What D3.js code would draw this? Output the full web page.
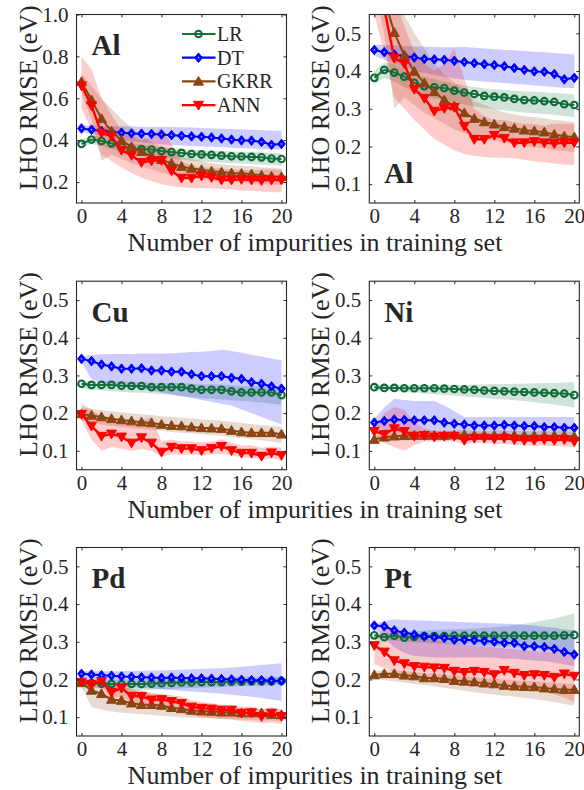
<!DOCTYPE html>
<html><head><meta charset="utf-8">
<script src="https://cdn.jsdelivr.net/npm/d3@7"></script>
<style>
html,body{margin:0;padding:0;background:#fff;}
svg text{font-family:"Liberation Serif","Times New Roman",serif;fill:#262626;}
</style></head>
<body><svg id="chart" width="584" height="790"></svg>
<script>
// ---------- data ----------
const impurities = [0,1,2,3,4,5,6,7,8,9,10,11,12,13,14,15,16,17,18,19,20];
const xTicks = [0,4,8,12,16,20];
const yTicksWide = [0.2,0.4,0.6,0.8,1.0];
const yTicksNarrow = [0.1,0.2,0.3,0.4,0.5];
const methods = ["LR","DT","GKRR","ANN"];
const colors = ["#12753c","#0000ff","#8b4513","#ff0000"];
const markerColors = ["#0e6a38","#0000ff","#8b4513","#ff0000"];
const xTitle = "Number of impurities in training set";
const yTitle = "LHO RMSE (eV)";

// Al
const alLR   = [0.382,0.403,0.396,0.385,0.369,0.360,0.357,0.355,0.348,0.343,0.339,0.334,0.332,0.330,0.326,0.323,0.322,0.320,0.318,0.312,0.310];
const alLRlo = [0.365,0.382,0.372,0.358,0.342,0.332,0.327,0.323,0.316,0.311,0.306,0.302,0.299,0.296,0.293,0.290,0.288,0.286,0.284,0.281,0.278];
const alLRhi = [0.400,0.422,0.418,0.408,0.395,0.385,0.378,0.372,0.366,0.362,0.358,0.354,0.352,0.350,0.348,0.346,0.345,0.344,0.342,0.340,0.338];
const alDT   = [0.456,0.450,0.444,0.440,0.436,0.432,0.431,0.430,0.427,0.424,0.421,0.418,0.416,0.413,0.408,0.403,0.399,0.398,0.392,0.378,0.382];
const alDTlo = [0.440,0.430,0.420,0.410,0.400,0.395,0.390,0.385,0.380,0.377,0.374,0.372,0.370,0.368,0.366,0.364,0.362,0.360,0.358,0.356,0.355];
const alDThi = [0.470,0.470,0.468,0.466,0.465,0.465,0.464,0.463,0.463,0.464,0.462,0.460,0.458,0.456,0.455,0.453,0.451,0.450,0.448,0.446,0.444];
const alGK   = [0.679,0.592,0.502,0.442,0.399,0.368,0.345,0.323,0.307,0.289,0.274,0.265,0.259,0.252,0.248,0.243,0.241,0.238,0.232,0.227,0.225];
const alGKlo = [0.620,0.500,0.300,0.330,0.310,0.290,0.275,0.260,0.245,0.235,0.225,0.220,0.215,0.210,0.205,0.200,0.198,0.195,0.190,0.188,0.185];
const alGKhi = [0.720,0.660,0.600,0.550,0.500,0.460,0.420,0.390,0.370,0.350,0.320,0.310,0.300,0.290,0.285,0.280,0.278,0.275,0.270,0.268,0.265];
const alANN   = [0.660,0.565,0.434,0.420,0.352,0.328,0.294,0.301,0.304,0.254,0.219,0.219,0.230,0.222,0.210,0.210,0.213,0.210,0.208,0.210,0.210];
const alANNlo = [0.550,0.450,0.330,0.300,0.270,0.245,0.220,0.205,0.190,0.180,0.175,0.172,0.170,0.170,0.168,0.165,0.160,0.158,0.155,0.152,0.150];
const alANNhi = [0.800,0.740,0.600,0.520,0.450,0.420,0.400,0.420,0.460,0.380,0.300,0.280,0.270,0.270,0.265,0.260,0.260,0.255,0.260,0.260,0.260];

// Cu
const cuLR   = [0.278,0.275,0.275,0.275,0.273,0.272,0.272,0.269,0.269,0.269,0.269,0.265,0.262,0.262,0.262,0.258,0.255,0.255,0.255,0.255,0.248];
const cuLRlo = [0.265,0.262,0.260,0.258,0.256,0.255,0.254,0.252,0.250,0.248,0.245,0.243,0.240,0.238,0.236,0.234,0.232,0.230,0.228,0.225,0.222];
const cuLRhi = [0.285,0.285,0.285,0.285,0.283,0.283,0.282,0.280,0.280,0.280,0.280,0.278,0.276,0.276,0.276,0.274,0.272,0.272,0.272,0.272,0.270];
const cuDT   = [0.344,0.338,0.329,0.324,0.318,0.318,0.319,0.313,0.313,0.310,0.310,0.303,0.298,0.298,0.298,0.294,0.291,0.282,0.278,0.271,0.265];
const cuDTlo = [0.335,0.290,0.280,0.275,0.270,0.268,0.265,0.260,0.255,0.250,0.245,0.240,0.235,0.230,0.225,0.220,0.210,0.200,0.190,0.180,0.170];
const cuDThi = [0.350,0.355,0.356,0.357,0.357,0.357,0.358,0.358,0.358,0.359,0.360,0.362,0.363,0.365,0.368,0.365,0.360,0.355,0.350,0.345,0.340];
const cuGK   = [0.198,0.194,0.190,0.185,0.182,0.179,0.176,0.174,0.170,0.167,0.166,0.163,0.161,0.160,0.159,0.154,0.150,0.148,0.148,0.148,0.144];
const cuGKlo = [0.180,0.175,0.170,0.166,0.163,0.160,0.158,0.156,0.153,0.150,0.148,0.146,0.144,0.142,0.140,0.137,0.134,0.131,0.128,0.125,0.120];
const cuGKhi = [0.215,0.212,0.208,0.205,0.202,0.200,0.197,0.195,0.192,0.190,0.188,0.186,0.184,0.182,0.180,0.177,0.174,0.171,0.168,0.166,0.164];
const cuANN   = [0.197,0.166,0.139,0.145,0.137,0.121,0.135,0.121,0.097,0.110,0.106,0.106,0.101,0.107,0.112,0.101,0.094,0.094,0.086,0.095,0.088];
const cuANNlo = [0.180,0.130,0.100,0.110,0.105,0.100,0.105,0.100,0.085,0.090,0.090,0.090,0.088,0.090,0.092,0.088,0.083,0.082,0.078,0.080,0.076];
const cuANNhi = [0.225,0.210,0.190,0.180,0.175,0.170,0.180,0.190,0.125,0.130,0.125,0.125,0.122,0.125,0.130,0.122,0.115,0.115,0.108,0.112,0.108];

// Ni
const niLR   = [0.269,0.267,0.267,0.266,0.266,0.266,0.266,0.265,0.264,0.263,0.262,0.260,0.259,0.258,0.257,0.256,0.255,0.254,0.253,0.252,0.248];
const niLRlo = [0.262,0.260,0.258,0.256,0.254,0.252,0.250,0.248,0.246,0.244,0.242,0.240,0.238,0.236,0.234,0.232,0.229,0.226,0.223,0.219,0.215];
const niLRhi = [0.275,0.275,0.275,0.275,0.275,0.275,0.275,0.275,0.275,0.275,0.276,0.276,0.277,0.277,0.278,0.278,0.279,0.280,0.280,0.281,0.282];
const niDT   = [0.175,0.179,0.183,0.182,0.181,0.181,0.181,0.175,0.172,0.170,0.167,0.167,0.167,0.169,0.167,0.166,0.166,0.163,0.163,0.161,0.161];
const niDTlo = [0.165,0.155,0.150,0.148,0.148,0.148,0.148,0.148,0.148,0.147,0.146,0.146,0.146,0.146,0.146,0.145,0.145,0.145,0.145,0.144,0.144];
const niDThi = [0.185,0.215,0.238,0.235,0.232,0.232,0.232,0.220,0.205,0.190,0.190,0.190,0.190,0.190,0.190,0.190,0.190,0.190,0.190,0.190,0.190];
const niGK   = [0.130,0.136,0.139,0.140,0.141,0.141,0.141,0.141,0.142,0.143,0.141,0.141,0.141,0.141,0.141,0.140,0.140,0.140,0.140,0.140,0.138];
const niGKlo = [0.125,0.127,0.128,0.128,0.129,0.129,0.129,0.129,0.129,0.130,0.129,0.129,0.129,0.128,0.128,0.128,0.128,0.127,0.127,0.127,0.126];
const niGKhi = [0.138,0.146,0.150,0.152,0.153,0.153,0.153,0.153,0.154,0.155,0.153,0.153,0.153,0.153,0.153,0.152,0.152,0.152,0.152,0.152,0.150];
const niANN   = [0.152,0.144,0.159,0.152,0.139,0.141,0.137,0.139,0.139,0.128,0.134,0.134,0.132,0.134,0.130,0.128,0.128,0.130,0.128,0.130,0.125];
const niANNlo = [0.140,0.120,0.110,0.100,0.115,0.125,0.125,0.125,0.125,0.118,0.120,0.120,0.118,0.118,0.116,0.115,0.114,0.114,0.112,0.112,0.110];
const niANNhi = [0.160,0.200,0.216,0.210,0.175,0.160,0.152,0.152,0.152,0.148,0.148,0.148,0.147,0.147,0.146,0.145,0.145,0.145,0.145,0.145,0.144];

// Pd
const pdLR   = [0.192,0.190,0.189,0.188,0.187,0.188,0.188,0.189,0.190,0.191,0.192,0.192,0.193,0.193,0.193,0.194,0.194,0.195,0.195,0.195,0.196];
const pdLRlo = [0.185,0.180,0.176,0.174,0.172,0.172,0.172,0.173,0.174,0.175,0.176,0.177,0.178,0.179,0.180,0.181,0.182,0.183,0.184,0.185,0.186];
const pdLRhi = [0.200,0.200,0.200,0.200,0.200,0.200,0.201,0.202,0.203,0.204,0.205,0.205,0.206,0.206,0.206,0.207,0.207,0.207,0.207,0.207,0.207];
const pdDT   = [0.215,0.213,0.211,0.210,0.208,0.207,0.206,0.205,0.204,0.205,0.204,0.203,0.203,0.202,0.201,0.200,0.199,0.198,0.198,0.197,0.196];
const pdDTlo = [0.190,0.188,0.186,0.184,0.182,0.180,0.178,0.176,0.174,0.172,0.170,0.168,0.166,0.164,0.162,0.160,0.157,0.154,0.151,0.147,0.143];
const pdDThi = [0.222,0.222,0.222,0.222,0.222,0.223,0.223,0.224,0.224,0.225,0.226,0.227,0.228,0.229,0.230,0.232,0.234,0.236,0.238,0.240,0.243];
const pdGK   = [0.191,0.171,0.162,0.147,0.144,0.137,0.133,0.133,0.131,0.125,0.122,0.118,0.116,0.115,0.113,0.113,0.111,0.111,0.111,0.107,0.106];
const pdGKlo = [0.180,0.127,0.120,0.115,0.112,0.110,0.108,0.106,0.104,0.102,0.100,0.099,0.098,0.097,0.096,0.095,0.094,0.093,0.092,0.091,0.090];
const pdGKhi = [0.200,0.198,0.192,0.185,0.180,0.175,0.170,0.165,0.160,0.152,0.145,0.138,0.132,0.128,0.125,0.124,0.122,0.122,0.121,0.120,0.120];
const pdANN   = [0.193,0.187,0.195,0.166,0.177,0.156,0.155,0.146,0.147,0.142,0.137,0.127,0.124,0.122,0.119,0.119,0.111,0.112,0.102,0.111,0.102];
const pdANNlo = [0.185,0.175,0.180,0.150,0.155,0.140,0.135,0.128,0.125,0.118,0.112,0.105,0.100,0.097,0.095,0.093,0.090,0.088,0.085,0.085,0.082];
const pdANNhi = [0.200,0.198,0.205,0.185,0.190,0.172,0.170,0.162,0.162,0.158,0.155,0.145,0.140,0.137,0.133,0.132,0.128,0.128,0.120,0.126,0.120];

// Pt
const ptLR   = [0.317,0.312,0.316,0.311,0.313,0.315,0.315,0.315,0.316,0.316,0.316,0.316,0.316,0.316,0.316,0.316,0.316,0.316,0.316,0.317,0.318];
const ptLRlo = [0.310,0.305,0.303,0.300,0.298,0.297,0.296,0.295,0.294,0.293,0.292,0.290,0.289,0.288,0.286,0.284,0.282,0.279,0.275,0.270,0.265];
const ptLRhi = [0.322,0.322,0.325,0.326,0.328,0.330,0.331,0.332,0.333,0.334,0.335,0.337,0.339,0.341,0.344,0.348,0.352,0.357,0.362,0.368,0.375];
const ptDT   = [0.343,0.341,0.330,0.324,0.319,0.314,0.312,0.310,0.305,0.305,0.304,0.302,0.300,0.297,0.297,0.288,0.288,0.286,0.281,0.273,0.266];
const ptDTlo = [0.335,0.310,0.285,0.270,0.262,0.260,0.258,0.258,0.258,0.258,0.258,0.258,0.258,0.255,0.255,0.252,0.250,0.248,0.245,0.240,0.235];
const ptDThi = [0.348,0.355,0.360,0.358,0.357,0.356,0.355,0.354,0.353,0.352,0.351,0.350,0.349,0.348,0.347,0.345,0.343,0.340,0.337,0.333,0.330];
const ptGK   = [0.212,0.215,0.215,0.211,0.209,0.204,0.204,0.202,0.197,0.195,0.193,0.190,0.188,0.184,0.182,0.181,0.180,0.177,0.175,0.173,0.173];
const ptGKlo = [0.200,0.198,0.195,0.192,0.188,0.185,0.182,0.178,0.174,0.170,0.166,0.163,0.160,0.157,0.154,0.151,0.148,0.144,0.140,0.135,0.130];
const ptGKhi = [0.222,0.225,0.225,0.222,0.220,0.216,0.216,0.214,0.210,0.208,0.206,0.204,0.202,0.199,0.197,0.196,0.195,0.193,0.191,0.189,0.188];
const ptANN   = [0.290,0.273,0.250,0.242,0.235,0.233,0.231,0.230,0.222,0.219,0.222,0.219,0.213,0.224,0.217,0.211,0.213,0.211,0.206,0.215,0.209];
const ptANNlo = [0.240,0.230,0.220,0.212,0.205,0.200,0.198,0.196,0.194,0.192,0.190,0.188,0.186,0.183,0.180,0.176,0.172,0.167,0.160,0.152,0.140];
const ptANNhi = [0.300,0.340,0.330,0.320,0.315,0.310,0.305,0.300,0.296,0.292,0.290,0.288,0.285,0.282,0.280,0.277,0.275,0.273,0.272,0.270,0.270];

const datasets = {
  Al: [[alLR,alLRlo,alLRhi],[alDT,alDTlo,alDThi],[alGK,alGKlo,alGKhi],[alANN,alANNlo,alANNhi]],
  Cu: [[cuLR,cuLRlo,cuLRhi],[cuDT,cuDTlo,cuDThi],[cuGK,cuGKlo,cuGKhi],[cuANN,cuANNlo,cuANNhi]],
  Ni: [[niLR,niLRlo,niLRhi],[niDT,niDTlo,niDThi],[niGK,niGKlo,niGKhi],[niANN,niANNlo,niANNhi]],
  Pd: [[pdLR,pdLRlo,pdLRhi],[pdDT,pdDTlo,pdDThi],[pdGK,pdGKlo,pdGKhi],[pdANN,pdANNlo,pdANNhi]],
  Pt: [[ptLR,ptLRlo,ptLRhi],[ptDT,ptDTlo,ptDThi],[ptGK,ptGKlo,ptGKhi],[ptANN,ptANNlo,ptANNhi]]
};

// ---------- layout ----------
const colX = [76.5, 369.3];
const rowY = [14.5, 281.2, 547.5];
const PW = 210, PH = 188.5;
const panels = [
  {el:"Al", col:0, row:0, dom:[0.1,1.0], ticks:yTicksWide, labelPos:"top", legend:true},
  {el:"Al", col:1, row:0, dom:[0.05,0.55], ticks:yTicksNarrow, labelPos:"bottom"},
  {el:"Cu", col:0, row:1, dom:[0.05,0.55], ticks:yTicksNarrow, labelPos:"top"},
  {el:"Ni", col:1, row:1, dom:[0.05,0.55], ticks:yTicksNarrow, labelPos:"top"},
  {el:"Pd", col:0, row:2, dom:[0.05,0.55], ticks:yTicksNarrow, labelPos:"top"},
  {el:"Pt", col:1, row:2, dom:[0.05,0.55], ticks:yTicksNarrow, labelPos:"top"}
];

const svg = d3.select("#chart");
const axisColor = "#262626";

function drawMarker(g, m) {
  const col = markerColors[m];
  if (m === 0) {
    g.append("circle").attr("r", 3.3).attr("fill","none").attr("stroke", col).attr("stroke-width", 2.1);
  } else if (m === 1) {
    g.append("path").attr("d", "M0,-4.8L3.9,0L0,4.8L-3.9,0Z").attr("fill", col).attr("stroke", col).attr("stroke-width", 1);
    g.append("circle").attr("r", 0.9).attr("fill", "#9fa6ff");
  } else if (m === 2) {
    g.append("path").attr("d", "M0,-5L5,3.8L-5,3.8Z").attr("fill", col).attr("stroke", col).attr("stroke-width", 1);
  } else {
    g.append("path").attr("d", "M0,5L5,-3.8L-5,-3.8Z").attr("fill", col).attr("stroke", col).attr("stroke-width", 1);
  }
}

panels.forEach((p, pi) => {
  const x0 = colX[p.col], y0 = rowY[p.row];
  const g = svg.append("g").attr("transform", `translate(${x0},${y0})`);
  const x = d3.scaleLinear().domain([-0.5, 20.5]).range([0, PW]);
  const y = d3.scaleLinear().domain(p.dom).range([PH, 0]);
  const clipId = "clip" + pi;
  g.append("clipPath").attr("id", clipId).append("rect").attr("width", PW).attr("height", PH);
  const plot = g.append("g").attr("clip-path", `url(#${clipId})`);
  const data = datasets[p.el];

  // bands
  data.forEach((s, k) => {
    const area = d3.area().x((d,i) => x(impurities[i])).y0((d,i) => y(s[1][i])).y1((d,i) => y(s[2][i]));
    plot.append("path").datum(s[0]).attr("d", area).attr("fill", colors[k]).attr("fill-opacity", 0.2).attr("stroke","none");
  });
  // lines + markers
  data.forEach((s, k) => {
    const line = d3.line().x((d,i) => x(impurities[i])).y(d => y(d));
    plot.append("path").datum(s[0]).attr("d", line).attr("fill","none").attr("stroke", colors[k]).attr("stroke-width", k===3?2.4:2);
    s[0].forEach((v, i) => {
      const mg = plot.append("g").attr("transform", `translate(${x(impurities[i])},${y(v)})`);
      drawMarker(mg, k);
    });
  });

  // axes
  const ax = (a) => a.tickSizeOuter(0);
  const gB = g.append("g").attr("transform", `translate(0,${PH})`).call(ax(d3.axisBottom(x).tickValues(xTicks).tickSize(-3).tickPadding(5).tickFormat(d3.format("d"))));
  const gT = g.append("g").call(ax(d3.axisTop(x).tickValues(xTicks).tickSize(-3).tickFormat("")));
  const gL = g.append("g").call(ax(d3.axisLeft(y).tickValues(p.ticks).tickSize(-3).tickPadding(8).tickFormat(d3.format(".1f"))));
  const gR = g.append("g").attr("transform", `translate(${PW},0)`).call(ax(d3.axisRight(y).tickValues(p.ticks).tickSize(-3).tickFormat("")));
  [gB,gT,gL,gR].forEach(a => {
    a.select(".domain").remove();
    a.selectAll("line").attr("stroke", axisColor).attr("stroke-width", 1);
    a.selectAll("text").attr("fill", axisColor).style("font-size","21px").style("font-family","'Liberation Serif',serif");
  });
  gB.selectAll("text").attr("dy","0.71em");
  g.append("rect").attr("width", PW).attr("height", PH).attr("fill","none").attr("stroke", axisColor).attr("stroke-width", 1.1);

  // y title
  g.append("text").attr("transform", `translate(-40,${PH/2 - 11}) rotate(-90)`)
    .attr("text-anchor","middle").style("font-size","26px").text(yTitle);

  // panel label
  g.append("text").attr("x", 15).attr("y", p.labelPos === "top" ? 40.5 : PH - 20)
    .style("font-size","29px").style("font-weight","bold").attr("fill","#000").text(p.el);

  // legend
  if (p.legend) {
    methods.forEach((m, k) => {
      const ly = 19.5 + k * 23.7;
      const lg = g.append("g");
      lg.append("line").attr("x1", 105.5).attr("x2", 139).attr("y1", ly).attr("y2", ly).attr("stroke", colors[k]).attr("stroke-width", 2.2);
      const mg = lg.append("g").attr("transform", `translate(122,${ly})`);
      drawMarker(mg, k);
      lg.append("text").attr("x", 140.5).attr("y", ly).attr("dy","0.35em").style("font-size","20px").text(m);
    });
  }
});

// x titles per row
rowY.forEach(r => {
  svg.append("text").attr("x", 315).attr("y", r + PH + 48).attr("text-anchor","middle").style("font-size","26px").text(xTitle);
});
</script></body></html>
